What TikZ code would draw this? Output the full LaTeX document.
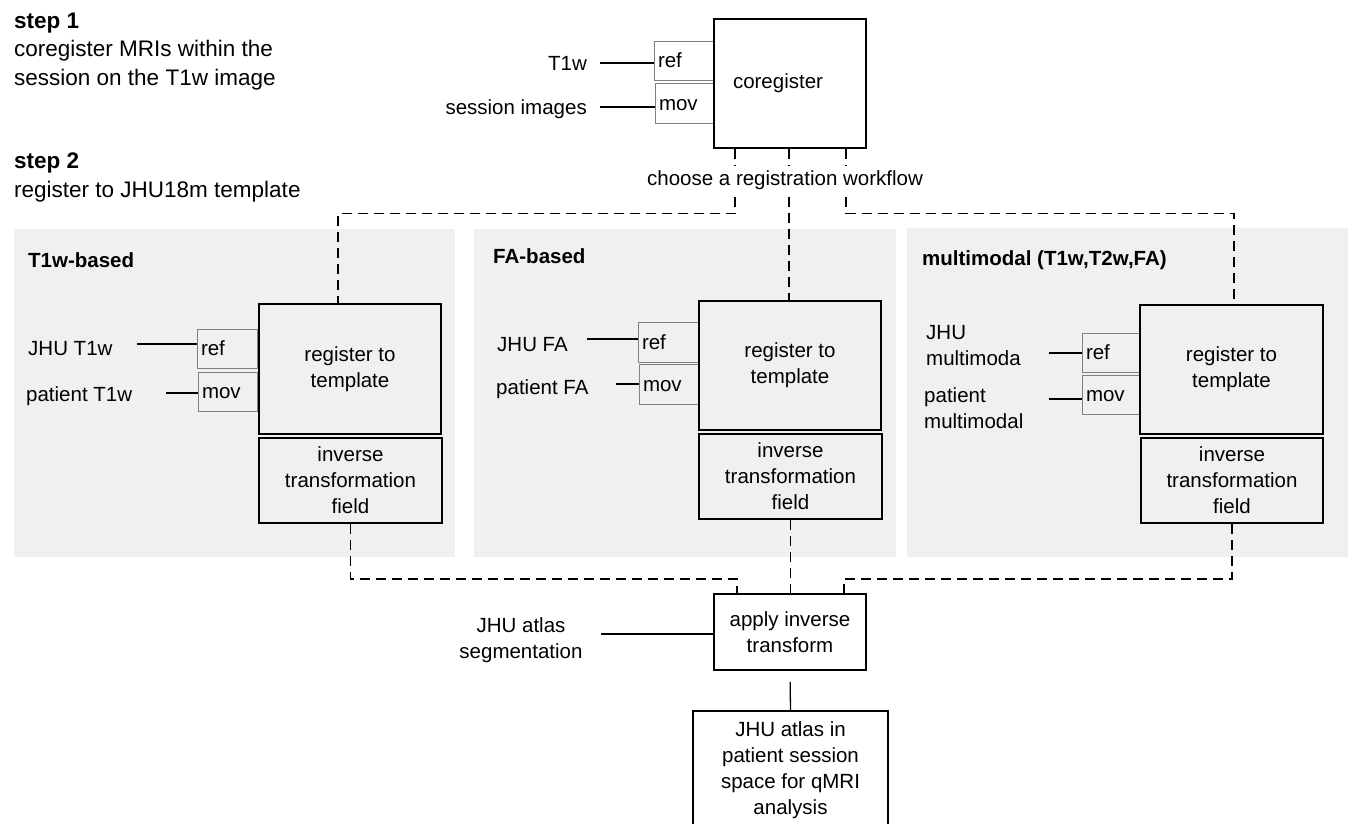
\documentclass[tikz,border=0pt]{standalone}
\usepackage{fontspec}
\setmainfont{Liberation Sans}
\begin{document}
\begin{tikzpicture}[x=1pt,y=-1pt,
  every node/.style={font=\fontsize{20.5}{26}\selectfont, inner sep=0pt},
  panel/.style={fill=black!6, draw=none},
  bigbox/.style={draw, line width=2.2pt, align=center},
  invbox/.style={draw, line width=2pt, align=center, minimum width=183, minimum height=85},
  regbox/.style={draw, line width=2.4pt, align=center, minimum width=182, minimum height=130},
  port/.style={draw=black!50, line width=1pt, minimum width=60, minimum height=39,
               text width=52, align=left, inner xsep=4, text height=14.7, text depth=0},
  conn/.style={line width=1.3pt},
  dashline/.style={line width=1.3pt, dash pattern=on 10pt off 6pt},
  lbl/.style={anchor=base west},
  title/.style={anchor=base west, font=\fontsize{20.5}{26}\selectfont\bfseries},
]
\useasboundingbox (0,0) rectangle (1348,823);
\clip (0,0) rectangle (1348,823);

% step texts (base anchor = baseline of last line)
\node[anchor=base west, align=left, font=\fontsize{22.5}{28.5}\selectfont] (step1) at (14,85)
  {\textbf{step 1}\\coregister MRIs within the\\session on the T1w image};
\node[anchor=base west, align=left, font=\fontsize{22.5}{28.5}\selectfont] (step2) at (14,197)
  {\textbf{step 2}\\register to JHU18m template};

% panels
\path[panel] (14,229) rectangle (455,557);
\path[panel] (474,229) rectangle (896,557);
\path[panel] (907,228) rectangle (1348,557);
\node[title] (tL) at (28,267.3) {T1w-based};
\node[title] (tM) at (493,263.3) {FA-based};
\node[title] (tR) at (922,265.3) {multimodal (T1w,T2w,FA)};

% ---------- step 1: coregister ----------
\node[port, minimum width=60, minimum height=39] (cref) at (684,60.5) {ref};
\node[port, minimum width=59, minimum height=40, text width=51] (cmov) at (684.5,103) {mov};
\node[bigbox, minimum width=152, minimum height=129] (core) at (790,83.5) {coregister\hspace*{24pt}};
\node[anchor=base east] (inT1) at (587,70.3) {T1w};
\node[anchor=base east] (inSes) at (587,114.3) {session images};
\coordinate (cT1) at (600,63);
\coordinate (cSes) at (600,107);
\draw[conn] (cT1) -- (cT1 -| cref.west);
\draw[conn] (cSes) -- (cSes -| cmov.west);

% ---------- left panel ----------
\node[port] (refL) at (227,348.5) {ref};
\node[port, minimum width=59, text width=51] (movL) at (227.5,391.5) {mov};
\node[regbox] (regL) at (350,369) {register to\\template};
\node[invbox] (invL) at (350.5,480.5) {inverse\\transformation\\field};
\node[lbl] (jT1) at (28,355.3) {JHU T1w};
\node[lbl] (pT1) at (26,401.3) {patient T1w};
\coordinate (cjT1) at (137,344);
\coordinate (cpT1) at (166,393);
\draw[conn] (cjT1) -- (cjT1 -| refL.west);
\draw[conn] (cpT1) -- (cpT1 -| movL.west);

% ---------- middle panel ----------
\node[port, minimum width=61, text width=53, minimum height=40] (refM) at (668.5,342) {ref};
\node[port, minimum height=40] (movM) at (669,384) {mov};
\node[regbox, minimum height=129] (regM) at (790,365.5) {register to\\template};
\node[invbox] (invM) at (790.5,476.5) {inverse\\transformation\\field};
\node[lbl] (jFA) at (497,351.3) {JHU FA};
\node[lbl] (pFA) at (496,394.3) {patient FA};
\coordinate (cjFA) at (587,339);
\coordinate (cpFA) at (616,384);
\draw[conn] (cjFA) -- (cjFA -| refM.west);
\draw[conn] (cpFA) -- (cpFA -| movM.west);

% ---------- right panel ----------
\node[port, minimum width=58, text width=50] (refR) at (1111,352.5) {ref};
\node[port, minimum width=58, text width=50] (movR) at (1111,394.5) {mov};
\node[regbox, minimum width=183, minimum height=129] (regR) at (1231.5,369.5) {register to\\template};
\node[invbox, minimum width=182] (invR) at (1232,480.5) {inverse\\transformation\\field};
\node[anchor=base west, align=left, font=\fontsize{20.5}{25.5}\selectfont] (jMM) at (926,365.3) {JHU\\multimoda};
\node[anchor=base west, align=left, font=\fontsize{20.5}{25.5}\selectfont] (pMM) at (924,428.3) {patient\\multimodal};
\coordinate (cjMM) at (1049,353);
\coordinate (cpMM) at (1049,399);
\draw[conn] (cjMM) -- (cjMM -| refR.west);
\draw[conn] (cpMM) -- (cpMM -| movR.west);

% ---------- bottom ----------
\node[draw, line width=1.6pt, align=center, minimum width=152, minimum height=76] (apply) at (790,632) {apply inverse\\transform};
\node[draw, line width=2.4pt, align=center, anchor=north, minimum width=195, inner ysep=10] (final) at (790.5,710)
  {JHU atlas in\\patient session\\space for qMRI\\analysis\rule[-25pt]{0pt}{0pt}};
\node[align=center] (atlas) at (521,640) {JHU atlas\\segmentation};
\coordinate (catlas) at (601,634);
\draw[conn] (catlas) -- (catlas -| apply.west);
\draw[conn, shorten <=11pt] (apply.south) -- (final.north);

% ---------- dashed workflow connectors ----------
\draw[dashline] ([xshift=-55]core.south) -- ++(0,64.5) -| ([xshift=-12]regL.north);
\draw[dashline] ([xshift=-1]core.south) -- ([xshift=-1]core.south |- regM.north);
\draw[dashline] ([xshift=56]core.south) -- ++(0,64.5) -| ([xshift=2.5]regR.north);
\node[fill=white, inner xsep=2pt, inner ysep=4pt] (choose) at (785,180) {choose a registration workflow};

\draw[dashline] (invL.south) -- ++(0,55) -| ([xshift=-53]apply.north);
\draw[dashline] (invM.south) -- (invM.south |- apply.north);
\draw[dashline] (invR.south) -- ++(0,55) -| ([xshift=54]apply.north);
\end{tikzpicture}
\end{document}
